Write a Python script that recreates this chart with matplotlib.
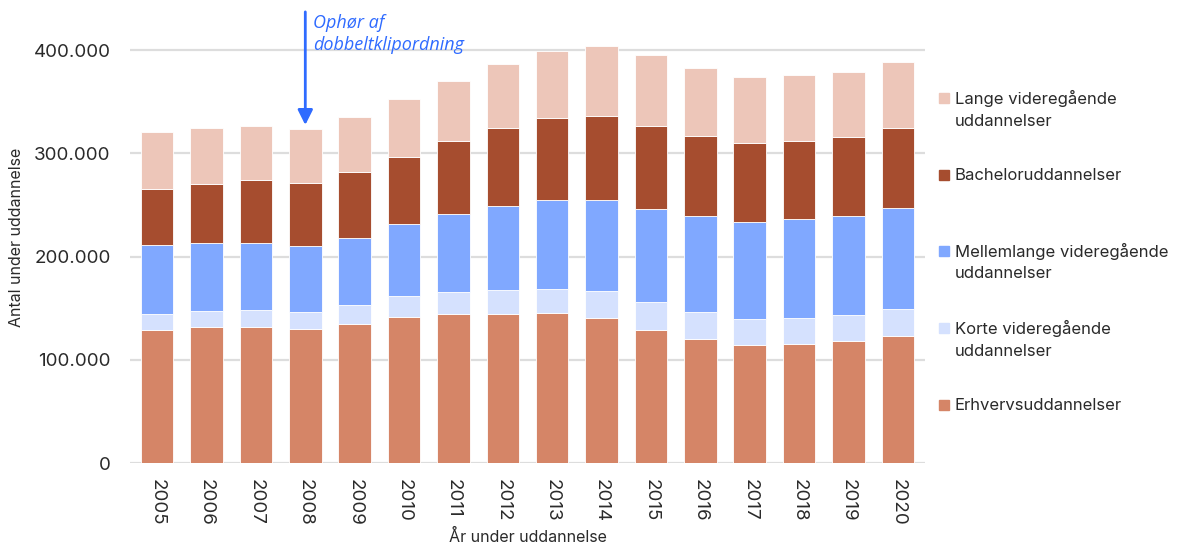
import matplotlib
matplotlib.use("Agg")
import matplotlib.pyplot as plt
from matplotlib.patches import Rectangle
import numpy as np

years = [str(y) for y in range(2005, 2021)]
erhverv = [129.0, 131.6, 132.3, 130.3, 134.8, 141.3, 144.5, 144.5, 145.5, 141.0, 129.4, 120.3, 114.2, 115.2, 118.1, 123.5]
korte = [15.8, 16.1, 16.1, 16.5, 18.4, 20.6, 21.3, 22.9, 23.2, 25.8, 26.4, 26.2, 25.8, 25.4, 25.1, 26.2]
mellem = [66.5, 65.5, 64.8, 63.5, 65.2, 69.4, 75.8, 81.6, 86.1, 88.0, 90.3, 92.9, 93.5, 95.5, 96.2, 97.4]
bachelor = [54.2, 57.4, 61.0, 61.0, 63.2, 65.5, 70.7, 75.8, 79.4, 81.0, 80.4, 77.4, 76.8, 76.2, 76.4, 77.1]
lange = [55.1, 53.9, 52.3, 52.2, 53.2, 55.5, 58.0, 61.3, 64.8, 67.7, 68.7, 65.5, 63.9, 63.5, 62.9, 63.9]

series_names = ["Erhvervsuddannelser", "Korte videregående\nuddannelser",
                "Mellemlange videregående\nuddannelser", "Bacheloruddannelser",
                "Lange videregående\nuddannelser"]
colors = ["#D58567", "#D5E1FE", "#80A8FF", "#A64D2F", "#EDC6B9"]
yticks = [0, 100000, 200000, 300000, 400000]
ytick_labels = ["0", "100.000", "200.000", "300.000", "400.000"]

W, H = 1186, 544
fig = plt.figure(figsize=(W / 100, H / 100), dpi=100)
plt.rcParams['font.family'] = ['Inter', 'DejaVu Sans']
txt = "#2A2A2A"

left, right, bottom_px = 130, 925, 463.3
ymax = 420000
top_px = bottom_px - ymax / 100000 * 103.3
ax = fig.add_axes([left / W, 1 - bottom_px / H, (right - left) / W, (bottom_px - top_px) / H])

x = np.arange(len(years))
data = [erhverv, korte, mellem, bachelor, lange]
base = np.zeros(len(years))
for vals, c in zip(data, colors):
    v = np.array(vals) * 1000
    ax.bar(x, v, bottom=base, width=0.66, color=c, edgecolor="white", linewidth=0.6, zorder=3)
    base += v

ax.set_xlim(-0.55, 15.55)
ax.set_ylim(0, ymax)
ax.set_yticks(yticks)
ax.set_yticklabels(ytick_labels, fontsize=13.5, color=txt)
ax.set_xticks(x)
ax.set_xticklabels(years, rotation=-90, fontsize=13.5, color=txt, va="top", ha="center")
ax.tick_params(axis="both", length=0)
ax.tick_params(axis="y", pad=14)
ax.tick_params(axis="x", pad=11)
for s in ax.spines.values():
    s.set_visible(False)
ax.grid(axis="y", color="#DDDDDD", linewidth=1.6, zorder=0)
ax.set_axisbelow(True)

fig.text(17 / W, 1 - 237 / H, "Antal under uddannelse", rotation=90, ha="center", va="center",
         fontsize=11.5, color=txt)
fig.text(528 / W, 1 - 537 / H, "År under uddannelse", ha="center", va="center", fontsize=11.5, color=txt)

# annotation
blue = "#2F6BFF"
ax.annotate("", xy=(3, 327500), xytext=(3, 437000), xycoords="data", textcoords="data",
            arrowprops=dict(arrowstyle="-|>,head_length=0.9,head_width=0.45", color=blue, lw=2,
                            shrinkA=0, shrinkB=0), annotation_clip=False)
ital = ["Open Sans", "DejaVu Sans"]
fig.text(313 / W, 1 - 23 / H, "Ophør af", fontsize=13, color=blue, style="italic",
         family=ital, va="center", ha="left")
fig.text(313 / W, 1 - 45 / H, "dobbeltklipordning", fontsize=13, color=blue, style="italic",
         family=ital, va="center", ha="left")

# legend
legend_rows = [
    (4, [98, 122]),
    (3, [175]),
    (2, [251, 274]),
    (1, [328, 352]),
    (0, [405]),
]
for idx, ys in legend_rows:
    y0 = ys[0]
    fig.patches.append(Rectangle((939 / W, 1 - (y0 + 5) / H), 10 / W, 10 / H,
                                 transform=fig.transFigure, color=colors[idx], figure=fig))
    for line, yy in zip(series_names[idx].split("\n"), ys):
        fig.text(955 / W, 1 - yy / H, line, fontsize=12, color=txt, va="center", ha="left")

fig.savefig("out.png", dpi=100, facecolor="white")
